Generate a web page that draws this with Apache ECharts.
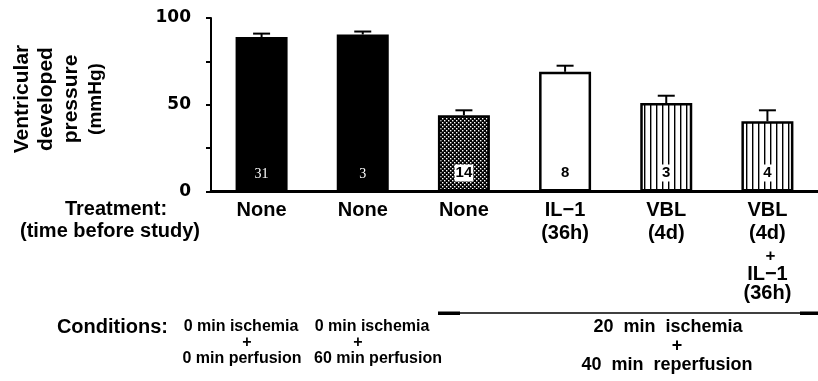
<!DOCTYPE html>
<html>
<head>
<meta charset="utf-8">
<script src="https://cdn.jsdelivr.net/npm/echarts@6/dist/echarts.min.js"></script>
<style>
  html, body { margin: 0; padding: 0; background: #fff; }
  #chart { width: 818px; height: 381px; }
</style>
</head>
<body>
<div id="chart"></div>
<script>
// ---- data ----
const categories = ['None', 'None', 'None', 'IL\u22121', 'VBL', 'VBL'];
const treatmentDetail = [[], [], [], ['(36h)'], ['(4d)'], ['(4d)', '+', 'IL\u22121', '(36h)']];
const meanPressure = [89, 90.5, 44, 69, 51, 40.5];
const semPressure = [2, 1.7, 2.8, 3.5, 4.2, 6.3];
const nHearts = ['31', '3', '14', '8', '3', '4'];
const yTickLabels = [0, 50, 100];
const yTitleLines = ['Ventricular', 'developed', 'pressure', '(mmHg)'];
const conditionTop = ['0 min ischemia', '0 min ischemia', '20  min  ischemia'];
const conditionBottom = ['0 min perfusion', '60 min perfusion', '40  min  reperfusion'];

// ---- fill patterns ----
function makePattern(kind) {
  const c = document.createElement('canvas');
  if (kind === 'dots') {
    c.width = 4; c.height = 4;
    const g = c.getContext('2d');
    g.fillStyle = '#000'; g.fillRect(0, 0, 4, 4);
    g.fillStyle = '#fff';
    g.fillRect(0, 0, 1.4, 1.4);
    g.fillRect(2, 2, 1.4, 1.4);
  } else {
    c.width = 6; c.height = 6;
    const g = c.getContext('2d');
    g.fillStyle = '#fff'; g.fillRect(0, 0, 6, 6);
    g.fillStyle = '#000'; g.fillRect(2, 0, 1.4, 6);
  }
  return { image: c, repeat: 'repeat' };
}
const styles = [
  { color: '#000' },
  { color: '#000' },
  { color: makePattern('dots') },
  { color: '#fff' },
  { color: makePattern('stripes') },
  { color: makePattern('stripes') }
];
const labelStyles = [
  { color: '#fff', fontFamily: 'Liberation Serif', fontWeight: 'normal', fontSize: 14 },
  { color: '#fff', fontFamily: 'Liberation Serif', fontWeight: 'normal', fontSize: 14 },
  { color: '#000', backgroundColor: '#fff', padding: [1, 1] },
  { color: '#000', backgroundColor: '#fff', padding: [1, 2] },
  { color: '#000', backgroundColor: '#fff', padding: [1, 2] },
  { color: '#000', backgroundColor: '#fff', padding: [1, 2] }
];

const FONT = 'Liberation Sans';
const chart = echarts.init(document.getElementById('chart'), null, { renderer: 'canvas' });

const lineStyleNames = ['t', 't', 'p', 's', 'u'];

function txt(x, y, text, font, align, extra) {
  return Object.assign({
    type: 'text', x: x, y: y,
    style: { text: text, font: font, fill: '#000', textAlign: align || 'center', textVerticalAlign: 'middle' }
  }, extra || {});
}

const graphics = [
  txt(116, 209, 'Treatment:', 'bold 20px ' + FONT),
  txt(110, 231, '(time before study)', 'bold 20px ' + FONT),
  txt(168, 327, 'Conditions:', 'bold 20px ' + FONT, 'right'),
  { type: 'line', shape: { x1: 438, y1: 313, x2: 818, y2: 313 }, style: { stroke: '#000', lineWidth: 1.6 } },
  { type: 'rect', shape: { x: 438, y: 311.5, width: 22, height: 3.5 }, style: { fill: '#000' } },
  { type: 'rect', shape: { x: 800, y: 311.5, width: 18, height: 3.5 }, style: { fill: '#000' } }
];
// y-axis title, rotated
const yTitleX = [22, 46, 71, 96];
yTitleLines.forEach((t, i) => {
  graphics.push(txt(yTitleX[i], 99, t, (i < 3 ? 'bold 21px ' : 'bold 19px ') + FONT, 'center', { rotation: Math.PI / 2 }));
});
const condX = [241, 372, 668];
const condPlusX = [247, 358, 677];
const condBottomX = [242, 378, 667];
const condFont = ['bold 16px ', 'bold 16px ', 'bold 18px '];
const condY = [[327, 343, 359], [327, 343, 359], [327, 346, 365]];
conditionTop.forEach((t, i) => {
  graphics.push(txt(condX[i], condY[i][0], t, condFont[i] + FONT));
  graphics.push(txt(condPlusX[i], condY[i][1], '+', condFont[i] + FONT));
  graphics.push(txt(condBottomX[i], condY[i][2], conditionBottom[i], condFont[i] + FONT));
});

chart.setOption({
  animation: false,
  backgroundColor: '#fff',
  grid: { left: 211, top: 18, width: 620, height: 173.5, containLabel: false },
  xAxis: {
    type: 'category',
    data: categories.map((c, i) => i + ':' + c),
    axisLine: { show: true, lineStyle: { color: '#000', width: 2.8 } },
    axisTick: { show: false },
    axisLabel: {
      interval: 0,
      margin: 7,
      formatter: function (v, idx) {
        const lines = [categories[idx]].concat(treatmentDetail[idx]);
        return lines.map((s, k) => '{' + lineStyleNames[k] + '|' + s + '}').join('\n');
      },
      rich: {
        t: { fontFamily: FONT, fontWeight: 'bold', fontSize: 20, lineHeight: 23, color: '#000' },
        p: { fontFamily: FONT, fontWeight: 'bold', fontSize: 17, lineHeight: 23, color: '#000', padding: [0, 0, 0, 6] },
        s: { fontFamily: FONT, fontWeight: 'bold', fontSize: 20, lineHeight: 13, color: '#000' },
        u: { fontFamily: FONT, fontWeight: 'bold', fontSize: 20, lineHeight: 25, color: '#000' }
      }
    },
    splitLine: { show: false }
  },
  yAxis: {
    type: 'value',
    min: 0, max: 100, interval: 25,
    axisLine: { show: true, lineStyle: { color: '#000', width: 2 } },
    axisTick: { show: true, inside: false, length: 5, lineStyle: { color: '#000', width: 2 } },
    axisLabel: {
      margin: 20,
      fontFamily: 'DejaVu Sans', fontWeight: 'bold', fontSize: 17, color: '#000',
      formatter: v => (yTickLabels.indexOf(v) >= 0 ? String(v) : '')
    },
    splitLine: { show: false }
  },
  series: [
    {
      type: 'bar',
      barWidth: 52,
      data: meanPressure.map((v, i) => ({
        value: v,
        itemStyle: Object.assign({ borderColor: '#000', borderWidth: 2.5 }, styles[i]),
        label: Object.assign({}, labelStyles[i])
      })),
      label: {
        show: true,
        position: 'insideBottom',
        distance: 10,
        fontFamily: FONT, fontWeight: 'bold', fontSize: 15,
        formatter: p => nHearts[p.dataIndex]
      },
      z: 2
    },
    {
      type: 'custom',
      data: meanPressure.map((v, i) => [i, v, v + semPressure[i]]),
      encode: { x: 0, y: [1, 2] },
      renderItem: function (params, api) {
        const base = api.coord([api.value(0), api.value(1)]);
        const top = api.coord([api.value(0), api.value(2)]);
        const hw = 8.5;
        return {
          type: 'group',
          children: [
            { type: 'line', shape: { x1: base[0], y1: base[1], x2: top[0], y2: top[1] }, style: { stroke: '#000', lineWidth: 2 } },
            { type: 'line', shape: { x1: top[0] - hw, y1: top[1], x2: top[0] + hw, y2: top[1] }, style: { stroke: '#000', lineWidth: 2 } }
          ]
        };
      },
      z: 3
    }
  ],
  graphic: graphics
});
</script>
</body>
</html>
